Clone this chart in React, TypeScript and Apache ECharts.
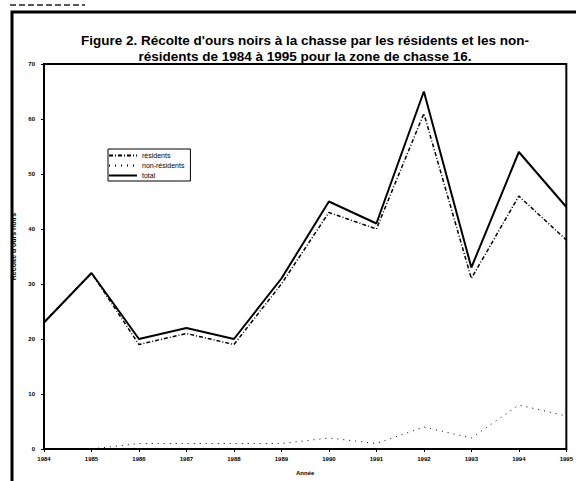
import React, { useEffect, useRef } from "react";
import * as echarts from "echarts";

const years = ["1984", "1985", "1986", "1987", "1988", "1989", "1990", "1991", "1992", "1993", "1994", "1995"];
const residents = [23, 32, 19, 21, 19, 30, 43, 40, 61, 31, 46, 38];
const nonResidents = [0, 0, 1, 1, 1, 1, 2, 1, 4, 2, 8, 6];
const total = [23, 32, 20, 22, 20, 31, 45, 41, 65, 33, 54, 44];
const titleLines = [
  "Figure 2. Récolte d'ours noirs à la chasse par les résidents et les non-",
  "résidents de 1984 à 1995 pour la zone de chasse 16.",
];

export default function App() {
  const ref = useRef<HTMLDivElement>(null);
  useEffect(() => {
    if (!ref.current) return;
    const chart = echarts.init(ref.current, null, { renderer: "svg" });
    const font = "'Liberation Sans', Arial, sans-serif";
    chart.setOption({
      animation: false,
      backgroundColor: "#ffffff",
      textStyle: { fontFamily: font, color: "#000" },
      grid: { left: 44, right: 3, top: 64, bottom: 26, show: true, borderColor: "#000", borderWidth: 2, backgroundColor: "transparent" },
      legend: {
        orient: "vertical",
        left: 108,
        top: 149,
        itemWidth: 28,
        itemHeight: 8,
        itemGap: 3,
        padding: [3, 6, 2, 0],
        borderColor: "#000",
        borderWidth: 1,
        itemStyle: { opacity: 0 },
        textStyle: { fontSize: 7, fontFamily: font, color: "#000" },
        data: ["résidents", "non-résidents", "total"],
      },
      xAxis: {
        type: "category",
        data: years,
        boundaryGap: false,
        name: "Année",
        nameLocation: "middle",
        nameGap: 21,
        nameTextStyle: { fontSize: 6, fontWeight: "bold", color: "#000" },
        axisLine: { lineStyle: { color: "#000", width: 2 } },
        axisTick: { show: true, length: 3, lineStyle: { color: "#000" } },
        axisLabel: { fontSize: 6, fontWeight: "bold", color: "#000", margin: 7 },
        splitLine: { show: false },
      },
      yAxis: {
        type: "value",
        min: 0,
        max: 70,
        interval: 10,
        name: "Récolte d'ours noirs",
        nameLocation: "middle",
        nameGap: 15,
        nameRotate: 90,
        nameTextStyle: { fontSize: 7, fontWeight: "bold", color: "#000", padding: [0, 0, 0, 20] },
        axisLine: { show: true, lineStyle: { color: "#000", width: 2 } },
        axisTick: { show: true, length: 3, lineStyle: { color: "#000" } },
        axisLabel: { fontSize: 6, fontWeight: "bold", color: "#000", margin: 9 },
        splitLine: { show: false },
      },
      series: [
        {
          name: "résidents",
          type: "line",
          data: residents,
          symbol: "none",
          lineStyle: { color: "#000", width: 1.5, type: [4, 2, 1, 2] },
          itemStyle: { color: "#000" },
        },
        {
          name: "non-résidents",
          type: "line",
          data: nonResidents,
          symbol: "none",
          lineStyle: { color: "#000", width: 1, type: [1, 5] },
          itemStyle: { color: "#000" },
        },
        {
          name: "total",
          type: "line",
          data: total,
          symbol: "none",
          lineStyle: { color: "#000", width: 2 },
          itemStyle: { color: "#000" },
        },
      ],
      graphic: [
        {
          type: "rect",
          shape: { x: 12, y: 12, width: 620, height: 520 },
          style: { fill: "none", stroke: "#000", lineWidth: 3 },
          silent: true,
        },
        {
          type: "line",
          shape: { x1: 10, y1: 5, x2: 85, y2: 5 },
          style: { stroke: "#555", lineWidth: 2, lineDash: [6, 3] },
          silent: true,
        },
        {
          type: "text",
          x: 305,
          y: 40,
          style: { text: titleLines[0], fontSize: 13.5, fontWeight: "bold", fontFamily: font, fill: "#000", align: "center", verticalAlign: "middle" },
        },
        {
          type: "text",
          x: 305,
          y: 56,
          style: { text: titleLines[1], fontSize: 13.5, fontWeight: "bold", fontFamily: font, fill: "#000", align: "center", verticalAlign: "middle" },
        },
      ],
    });
    return () => chart.dispose();
  }, []);
  return <div ref={ref} style={{ position: "absolute", left: 0, top: 0, width: 576, height: 481 }} />;
}
